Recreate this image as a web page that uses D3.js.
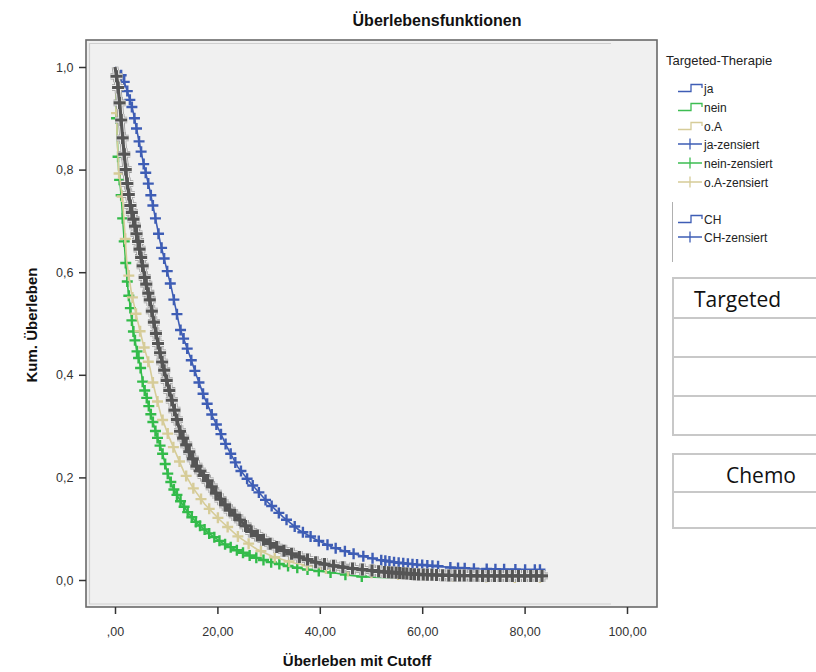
<!DOCTYPE html>
<html>
<head>
<meta charset="utf-8">
<script src="https://cdn.jsdelivr.net/npm/d3@7"></script>
<style>
  body { margin: 0; background: #fff; }
  svg { display: block; font-family: "Liberation Sans", Arial, sans-serif; }
</style>
</head>
<body>
<script>
// Kaplan-Meier curves: [time, cumulative survival]
const jaCurve = [[0,1.0],[1.5,0.98],[2.5,0.95],[3.5,0.915],[4.5,0.865],[5.5,0.815],[6.8,0.76],[7.8,0.71],[8.8,0.66],[10.0,0.61],[11.0,0.57],[12.7,0.49],[14.5,0.44],[16,0.396],[17.5,0.355],[19.1,0.318],[21.9,0.259],[24,0.22],[26.4,0.19],[29.5,0.155],[32.8,0.123],[36,0.097],[39.4,0.078],[42.5,0.064],[45.9,0.053],[49,0.045],[51.8,0.039],[55,0.034],[59,0.030],[62.9,0.027],[66,0.024],[70,0.022],[75,0.021],[80,0.02],[83,0.02]]
const neinCurve = [[0,1.0],[0.2,0.95],[0.3,0.9],[0.5,0.85],[0.7,0.8],[1.2,0.75],[1.6,0.69],[2.0,0.63],[2.5,0.57],[3.0,0.53],[3.5,0.49],[4.2,0.45],[4.9,0.42],[5.5,0.38],[6.2,0.355],[7.2,0.315],[8.2,0.28],[9.2,0.25],[10.2,0.21],[11.3,0.18],[13,0.15],[14.5,0.128],[16,0.111],[18.5,0.09],[21,0.072],[24,0.057],[27,0.045],[30,0.036],[33,0.029],[37,0.021],[42.6,0.014],[46,0.009],[49,0.006],[55,0.004],[62,0.003],[68,0.002],[72,0.0]]
const oaCurve = [[0,1.0],[0.2,0.95],[0.4,0.87],[0.7,0.8],[1.5,0.74],[2.3,0.62],[3.2,0.56],[4.3,0.51],[5.5,0.46],[6.8,0.415],[7.5,0.38],[9.0,0.32],[10.5,0.28],[12,0.245],[13.5,0.21],[15.2,0.18],[17.5,0.148],[20.5,0.117],[24,0.085],[27.7,0.06],[31,0.045],[35,0.033],[40,0.024],[45,0.018],[50,0.014],[55,0.011],[60,0.009],[66,0.007],[72,0.006],[78,0.005],[83,0.005]]
const chCurve = [[0,1.0],[0.5,0.97],[1.0,0.92],[1.6,0.85],[2.3,0.78],[3.0,0.73],[3.9,0.69],[4.9,0.64],[5.8,0.59],[6.8,0.546],[8.2,0.47],[9.2,0.425],[10.2,0.385],[11.5,0.335],[12.7,0.29],[14.5,0.25],[16,0.22],[18,0.195],[20,0.165],[22,0.14],[24.4,0.117],[26.4,0.096],[29.5,0.075],[32.8,0.058],[36,0.045],[39.4,0.034],[42.5,0.028],[45.9,0.023],[52.3,0.016],[59,0.011],[65,0.009],[72,0.008],[83.6,0.008]]

// censored times
const jaCens = [1.2,1.8,2.4,2.9,3.3,3.8,4.2,4.7,5.1,5.6,6.0,6.5,7.0,7.4,7.9,8.5,9.1,9.6,10.2,10.8,11.5,12.1,12.8,13.4,14.1,14.9,15.6,16.4,17.2,18.0,18.9,19.8,20.7,21.6,22.6,23.5,24.6,25.8,26.9,28.1,29.4,30.6,32.0,33.5,35.1,36.7,38.2,39.8,41.5,43.1,44.9,46.6,48.5,50.3,52.0,52.8,53.6,54.5,55.4,56.3,57.2,58.1,59.0,60.0,61.0,62.0,63.1,65.5,67.0,68.3,70.1,72.6,74.3,76.0,78.2,80.1,82.0,83.0]
const neinCens = [0.3,0.6,0.9,1.2,1.5,1.8,2.1,2.4,2.7,3.0,3.3,3.6,3.9,4.3,4.6,5.0,5.4,5.8,6.2,6.6,7.0,7.4,7.9,8.3,8.8,9.3,9.8,10.3,10.9,11.5,12.1,12.8,13.5,14.2,15.0,15.8,16.6,17.5,18.4,19.4,20.4,21.5,22.6,23.8,25.0,26.3,27.6,29.0,30.5,32.1,33.8,35.6,37.6,39.8,42.1,45.0,48.2]
const oaCens = [0.3,0.8,1.4,2.0,2.7,3.4,4.1,4.9,5.7,6.5,7.4,8.3,9.3,10.3,11.4,12.6,13.9,15.3,16.8,18.4,20.1,22.0,24.0,26.1,28.5,31.2,34.0,37.5,41.2,45.5,50.1,55.3,60.4,66.0,72.5,78.1,83.0]
const chCens = [0.3,0.6,0.9,1.2,1.5,1.8,2.1,2.4,2.7,3.0,3.3,3.6,3.9,4.2,4.5,4.8,5.1,5.4,5.8,6.1,6.5,6.8,7.2,7.6,8.0,8.4,8.8,9.2,9.6,10.1,10.6,11.1,11.6,12.1,12.7,13.3,13.9,14.5,15.2,15.9,16.6,17.3,18.1,18.9,19.7,20.6,21.5,22.4,23.4,24.4,25.5,26.6,27.8,29.0,30.3,31.6,33.0,34.5,36.0,37.6,39.2,40.9,42.7,44.5,46.4,48.3,50.2,51.5,52.6,53.4,54.1,54.9,55.6,56.3,57.0,57.8,58.5,59.3,60.2,61.0,61.9,62.8,64.0,65.2,66.4,67.3,68.2,69.5,70.7,71.8,72.9,74.1,75.2,76.5,77.6,78.8,80.0,81.2,82.3,83.4]

const xTicks = [0, 20, 40, 60, 80, 100]
const xTickLabels = [",00", "20,00", "40,00", "60,00", "80,00", "100,00"]
const yTicks = [0, 0.2, 0.4, 0.6, 0.8, 1.0]
const yTickLabels = ["0,0", "0,2", "0,4", "0,6", "0,8", "1,0"]

const legendTitle = "Targeted-Therapie"
const legendItems = [
  {label: "ja", color: "#3e5db5", type: "step"},
  {label: "nein", color: "#3dbd52", type: "step"},
  {label: "o.A", color: "#d6cc98", type: "step"},
  {label: "ja-zensiert", color: "#3e5db5", type: "cross"},
  {label: "nein-zensiert", color: "#3dbd52", type: "cross"},
  {label: "o.A-zensiert", color: "#d6cc98", type: "cross"}
]
const legendItems2 = [
  {label: "CH", color: "#3e5db5", type: "step"},
  {label: "CH-zensiert", color: "#3e5db5", type: "cross"}
]

const svg = d3.select("body").append("svg")
    .attr("width", 816)
    .attr("height", 672)

const x = d3.scaleLinear().domain([0, 100]).range([115, 627])
const y = d3.scaleLinear().domain([0, 1]).range([580, 67])

// plot frame
svg.append("rect")
    .attr("x", 86).attr("y", 40).attr("width", 571).attr("height", 567)
    .attr("fill", "#f0f0f0").attr("stroke", "#6a6a6a").attr("stroke-width", 1.6)
svg.append("path")
    .attr("d", "M611,43.5 H89.5 V604 H611")
    .attr("fill", "none").attr("stroke", "#cfcfcf").attr("stroke-width", 1.2)

// title
svg.append("text")
    .attr("x", 437).attr("y", 26)
    .attr("text-anchor", "middle")
    .attr("font-size", "16px").attr("font-weight", "bold")
    .attr("fill", "#111")
    .text("Überlebensfunktionen")

// axes
const xAxis = svg.append("g")
    .attr("transform", "translate(0,607)")
    .call(d3.axisBottom(x).tickValues(xTicks).tickSize(7).tickSizeOuter(0)
      .tickFormat((d, i) => xTickLabels[i]))
xAxis.select(".domain").remove()
xAxis.selectAll("line").attr("stroke", "#333").attr("stroke-width", 1.5)
xAxis.selectAll("text").attr("font-size", "12.5px").attr("fill", "#333")
    .attr("font-family", "Liberation Sans, Arial, sans-serif").attr("dy", "1.5em")

const yAxis = svg.append("g")
    .attr("transform", "translate(86,0)")
    .call(d3.axisLeft(y).tickValues(yTicks).tickSize(7).tickSizeOuter(0)
      .tickFormat((d, i) => yTickLabels[i]))
yAxis.select(".domain").remove()
yAxis.selectAll("line").attr("stroke", "#333").attr("stroke-width", 1.5)
yAxis.selectAll("text").attr("font-size", "12.5px").attr("fill", "#333")
    .attr("font-family", "Liberation Sans, Arial, sans-serif").attr("dx", "-0.2em")

svg.append("text")
    .attr("x", 357).attr("y", 666)
    .attr("text-anchor", "middle")
    .attr("font-size", "15px").attr("font-weight", "bold").attr("fill", "#111")
    .text("Überleben mit Cutoff")
svg.append("text")
    .attr("transform", "translate(37,325) rotate(-90)")
    .attr("text-anchor", "middle")
    .attr("font-size", "15px").attr("font-weight", "bold").attr("fill", "#111")
    .text("Kum. Überleben")

// curves (events are so dense the steps read as a smooth line)
const line = d3.line()
    .x(d => x(d[0]))
    .y(d => y(d[1]))

// survival level at a censored time, on the drawn curve
function survAt(curve, t) {
  for (let i = 1; i < curve.length; i++) {
    const a = curve[i - 1], b = curve[i]
    if (t <= b[0]) return a[1] + (b[1] - a[1]) * (t - a[0]) / (b[0] - a[0])
  }
  return curve[curve.length - 1][1]
}

function crossPath(curve, cens, half) {
  return cens.map(t => {
    const cx = x(t), cy = y(survAt(curve, t))
    return "M" + (cx - half) + "," + cy + "H" + (cx + half) +
      "M" + cx + "," + (cy - half) + "V" + (cy + half)
  }).join("")
}

function drawSeries(curve, cens, color, width) {
  const g = svg.append("g")
  g.append("path").attr("d", line(curve))
      .attr("fill", "none").attr("stroke", color).attr("stroke-width", width)
  g.append("path").attr("d", crossPath(curve, cens, 5.5))
      .attr("fill", "none").attr("stroke", color).attr("stroke-width", width + 0.8)
}

drawSeries(jaCurve, jaCens, "#3e5db5", 1.6)
drawSeries(neinCurve, neinCens, "#33bb4a", 1.6)
drawSeries(oaCurve, oaCens, "#d6cc98", 1.6)

// CH drawn as dark marks with a light outline
const chOutline = [["#9a9a9a", 6.6], ["#f2f2f2", 5.0], ["#555555", 3.2]]
chOutline.forEach(o => {
  const g = svg.append("g")
  g.append("path").attr("d", line(chCurve))
      .attr("fill", "none").attr("stroke", o[0]).attr("stroke-width", o[1])
      .attr("stroke-linejoin", "round")
  g.append("path").attr("d", crossPath(chCurve, chCens, 6))
      .attr("fill", "none").attr("stroke", o[0]).attr("stroke-width", o[1])
      .attr("stroke-linecap", "butt")
})

// legend
svg.append("text")
    .attr("x", 666).attr("y", 65)
    .attr("font-size", "13px").attr("fill", "#222")
    .text(legendTitle)

function legendRow(item, yy) {
  const g = svg.append("g").attr("transform", "translate(678," + yy + ")")
  if (item.type === "step") {
    g.append("path").attr("d", "M0,3.5 H13 V-3.5 H24 V0")
        .attr("fill", "none").attr("stroke", item.color).attr("stroke-width", 1.3)
  } else {
    g.append("path").attr("d", "M0,0 H24 M12,-5.5 V5.5")
        .attr("fill", "none").attr("stroke", item.color).attr("stroke-width", 1.3)
  }
  g.append("text").attr("x", 26).attr("y", 4.5)
      .attr("font-size", "12px").attr("fill", "#222")
      .text(item.label)
}

const rowY = [88, 107, 126, 144, 163, 182]
legendItems.forEach((d, i) => legendRow(d, rowY[i]))
const rowY2 = [219, 237]
svg.append("line")
    .attr("x1", 672.5).attr("x2", 672.5).attr("y1", 202).attr("y2", 262)
    .attr("stroke", "#b0b0b0").attr("stroke-width", 1)
legendItems2.forEach((d, i) => legendRow(d, rowY2[i]))

// cut-off tables at right
function tableBox(top, rows, title, textX) {
  const g = svg.append("g")
  rows.forEach(r => {
    g.append("line")
        .attr("x1", 673).attr("x2", 816).attr("y1", r).attr("y2", r)
        .attr("stroke", "#c8c8c8").attr("stroke-width", 2)
  })
  g.append("line")
      .attr("x1", 673).attr("x2", 673).attr("y1", top - 1).attr("y2", rows[rows.length - 1] + 1)
      .attr("stroke", "#c8c8c8").attr("stroke-width", 2)
  g.append("text")
      .attr("x", textX).attr("y", top + 29)
      .attr("font-family", "Open Sans, Noto Sans, sans-serif")
      .attr("font-size", "21px").attr("fill", "#111")
      .text(title)
}
tableBox(278, [278, 318, 357, 396, 435], "Targeted", 694)
tableBox(454, [454, 492, 528], "Chemo", 726)
</script>
</body>
</html>
